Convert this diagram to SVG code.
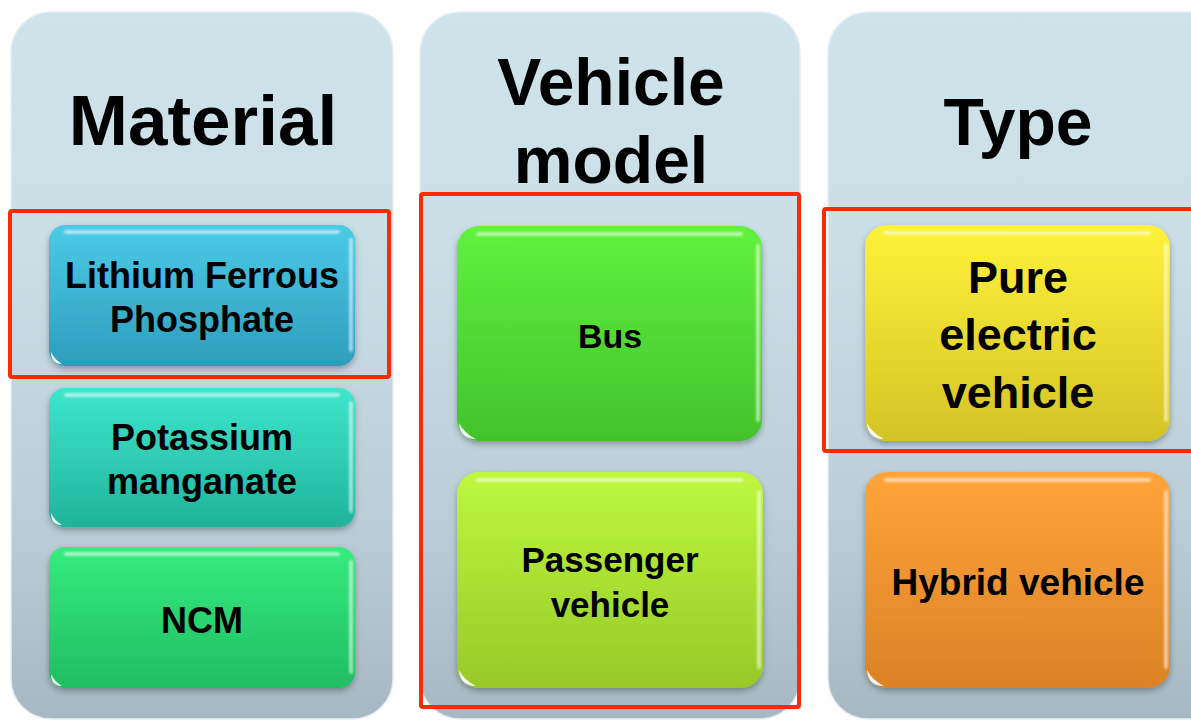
<svg xmlns="http://www.w3.org/2000/svg" width="1191" height="720" viewBox="0 0 1191 720">
<defs>
<style>
.hdr{font-family:"Liberation Sans",Arial,sans-serif;font-weight:bold;font-size:66px;fill:#000;text-anchor:middle}
.lbl{font-family:"Liberation Sans",Arial,sans-serif;font-weight:bold;font-size:36px;fill:#000;text-anchor:middle}
.big{font-size:45px}
.panel{fill:url(#gPanel);stroke:#e6eef2;stroke-width:1.5}
.box{stroke:none;filter:url(#sh)}
.hl{fill:none;stroke:#fff;stroke-opacity:.55;stroke-width:4;stroke-linecap:round;filter:url(#bl)}
.dot{fill:#fff;opacity:.9}
.red{fill:none;stroke:#ff2a00;stroke-width:4}
</style>
<linearGradient id="gPanel" x1="0" y1="0" x2="0" y2="1">
<stop offset="0" stop-color="#cfe3eb"/><stop offset="0.3" stop-color="#cbdfe7"/><stop offset="0.7" stop-color="#bccfd8"/><stop offset="1" stop-color="#a7b8c2"/>
</linearGradient>
<linearGradient id="gLFP" x1="0" y1="0" x2="0" y2="1"><stop offset="0" stop-color="#4ccbe6"/><stop offset="1" stop-color="#2e9dbd"/></linearGradient>
<linearGradient id="gPot" x1="0" y1="0" x2="0" y2="1"><stop offset="0" stop-color="#3ee6cc"/><stop offset="1" stop-color="#20b39c"/></linearGradient>
<linearGradient id="gNCM" x1="0" y1="0" x2="0" y2="1"><stop offset="0" stop-color="#36ec7f"/><stop offset="1" stop-color="#20bd62"/></linearGradient>
<linearGradient id="gBus" x1="0" y1="0" x2="0" y2="1"><stop offset="0" stop-color="#60f23e"/><stop offset="1" stop-color="#43c22c"/></linearGradient>
<linearGradient id="gPas" x1="0" y1="0" x2="0" y2="1"><stop offset="0" stop-color="#bef83e"/><stop offset="1" stop-color="#96c928"/></linearGradient>
<linearGradient id="gPure" x1="0" y1="0" x2="0" y2="1"><stop offset="0" stop-color="#fff23a"/><stop offset="1" stop-color="#d4c326"/></linearGradient>
<linearGradient id="gHyb" x1="0" y1="0" x2="0" y2="1"><stop offset="0" stop-color="#ffa43a"/><stop offset="1" stop-color="#da8226"/></linearGradient>
<filter id="sh" x="-10%" y="-10%" width="120%" height="125%"><feDropShadow dx="0" dy="3" stdDeviation="3" flood-color="#000" flood-opacity="0.3"/></filter>
<filter id="bl"><feGaussianBlur stdDeviation="1.2"/></filter>
</defs>
<rect width="1191" height="720" fill="#fff"/>
<g id="panel-material">
<rect class="panel" x="11" y="12" width="382" height="707" rx="40"/>
<text class="hdr" x="203" y="145" style="font-size:71px">Material</text>
</g>
<g id="panel-vehicle-model">
<rect class="panel" x="420" y="12" width="380" height="707" rx="40"/>
<text class="hdr" x="611" y="105">Vehicle</text>
<text class="hdr" x="611" y="183">model</text>
</g>
<g id="panel-type">
<rect class="panel" x="828" y="12" width="400" height="707" rx="40"/>
<text class="hdr" x="1018" y="145">Type</text>
</g>
<g id="node-lfp">
<rect class="box" x="49" y="225" width="306" height="141" rx="16" fill="url(#gLFP)"/>
<path class="hl" d="M66 232 H338 M351 240 V350"/>
<path class="dot" d="M51 352 Q51 364 62 364 Q54 359 51 352 Z"/>
<text class="lbl" x="202" y="288">Lithium Ferrous</text>
<text class="lbl" x="202" y="332">Phosphate</text>
</g>
<g id="node-potassium">
<rect class="box" x="49" y="388" width="306" height="139" rx="16" fill="url(#gPot)"/>
<path class="hl" d="M66 395 H338 M351 403 V511"/>
<path class="dot" d="M51 513 Q51 525 62 525 Q54 520 51 513 Z"/>
<text class="lbl" x="202" y="450">Potassium</text>
<text class="lbl" x="202" y="494">manganate</text>
</g>
<g id="node-ncm">
<rect class="box" x="49" y="547" width="306" height="141" rx="16" fill="url(#gNCM)"/>
<path class="hl" d="M66 554 H338 M351 562 V672"/>
<path class="dot" d="M51 674 Q51 686 62 686 Q54 681 51 674 Z"/>
<text class="lbl" x="202" y="633">NCM</text>
</g>
<g id="node-bus">
<rect class="box" x="457" y="226" width="305" height="215" rx="22" fill="url(#gBus)"/>
<path class="hl" d="M478 234 H741 M758 246 V420"/>
<path class="dot" d="M459 423 Q460 439 476 439 Q464 433 459 423 Z"/>
<text class="lbl" x="610" y="348" style="font-size:34px">Bus</text>
</g>
<g id="node-passenger">
<rect class="box" x="457" y="472" width="306" height="216" rx="22" fill="url(#gPas)"/>
<path class="hl" d="M478 480 H742 M759 492 V667"/>
<path class="dot" d="M459 670 Q460 686 476 686 Q464 680 459 670 Z"/>
<text class="lbl" x="610" y="572" style="font-size:35px">Passenger</text>
<text class="lbl" x="610" y="617" style="font-size:35px">vehicle</text>
</g>
<g id="node-pure-ev">
<rect class="box" x="865" y="225" width="305" height="216" rx="22" fill="url(#gPure)"/>
<path class="hl" d="M886 233 H1149 M1166 245 V420"/>
<path class="dot" d="M867 423 Q868 439 884 439 Q872 433 867 423 Z"/>
<text class="lbl big" x="1018" y="293">Pure</text>
<text class="lbl big" x="1018" y="350">electric</text>
<text class="lbl big" x="1018" y="408">vehicle</text>
</g>
<g id="node-hybrid">
<rect class="box" x="865" y="472" width="305" height="216" rx="22" fill="url(#gHyb)"/>
<path class="hl" d="M886 480 H1149 M1166 492 V667"/>
<path class="dot" d="M867 670 Q868 686 884 686 Q872 680 867 670 Z"/>
<text class="lbl" x="1018" y="595" style="font-size:37px">Hybrid vehicle</text>
</g>
<g id="highlights">
<rect class="red" x="10" y="211" width="379" height="166" rx="2"/>
<rect class="red" x="421" y="194" width="378" height="513" rx="2"/>
<rect class="red" x="824" y="209" width="380" height="242" rx="2"/>
</g>
<g id="connectors"/>
</svg>
